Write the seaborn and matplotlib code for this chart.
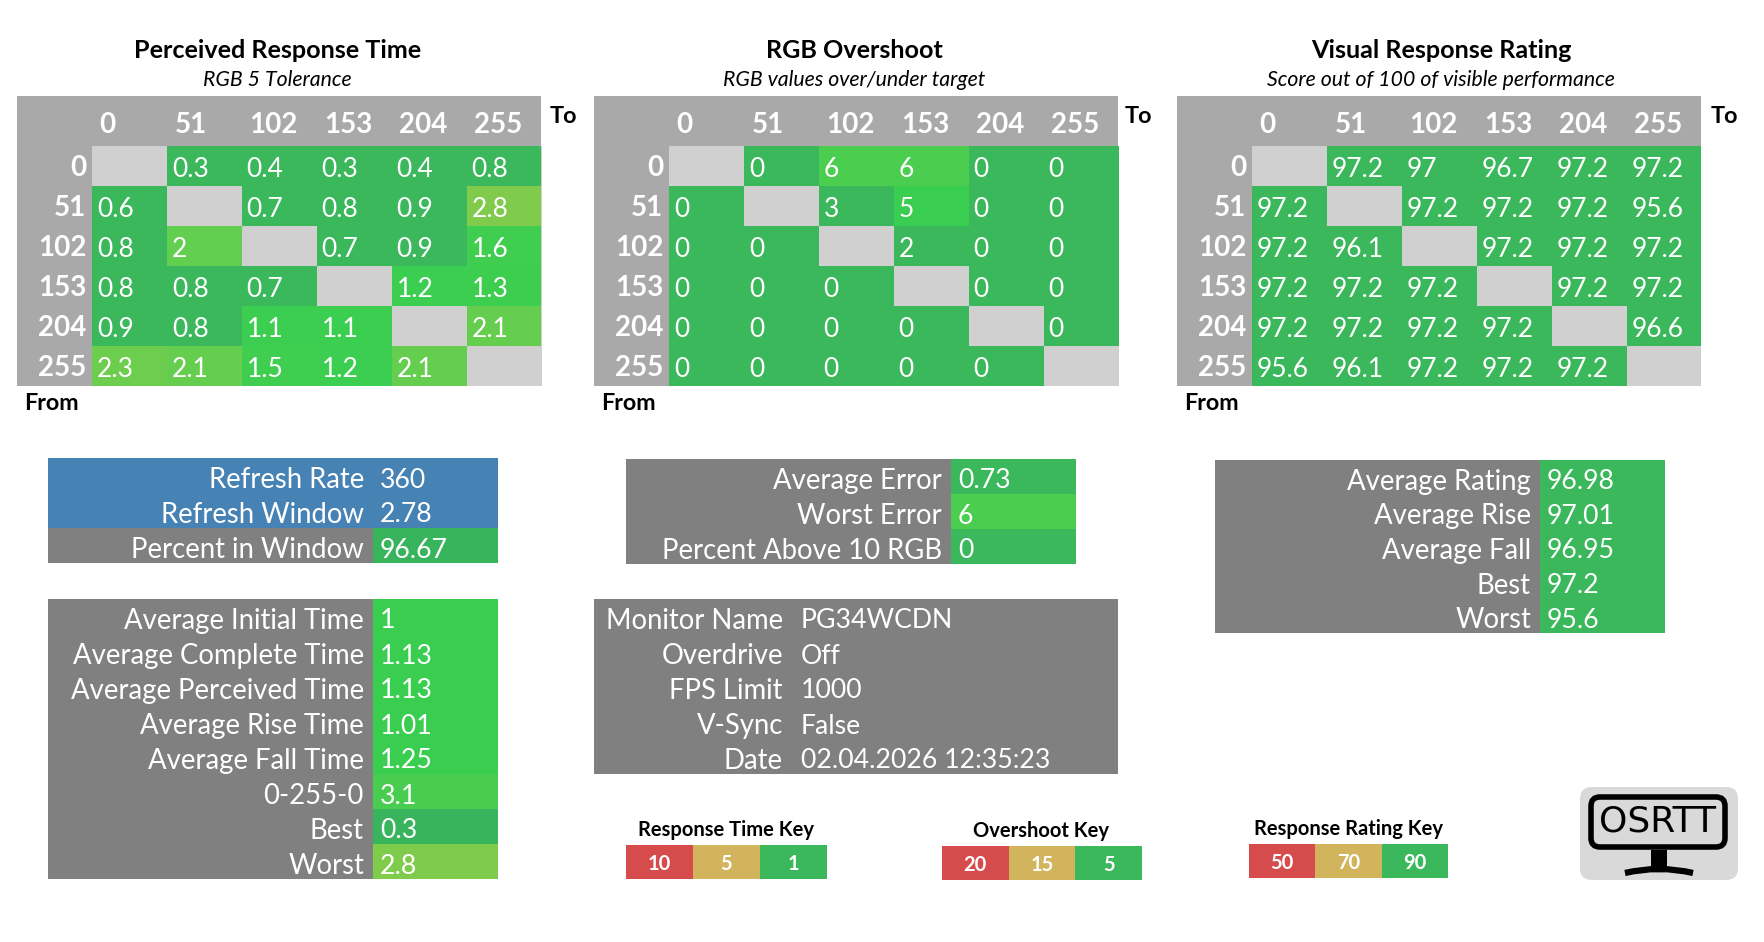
import matplotlib.pyplot as plt
import numpy as np
import seaborn as sns
from matplotlib.colors import LinearSegmentedColormap, ListedColormap
from matplotlib.patches import FancyBboxPatch, PathPatch, Rectangle
from matplotlib.path import Path
from matplotlib.transforms import ScaledTranslation

W, H = 1765, 942

levels = ["0", "51", "102", "153", "204", "255"]
nan = float("nan")

response_times = [
    [nan, 0.3, 0.4, 0.3, 0.4, 0.8],
    [0.6, nan, 0.7, 0.8, 0.9, 2.8],
    [0.8, 2, nan, 0.7, 0.9, 1.6],
    [0.8, 0.8, 0.7, nan, 1.2, 1.3],
    [0.9, 0.8, 1.1, 1.1, nan, 2.1],
    [2.3, 2.1, 1.5, 1.2, 2.1, nan],
]
overshoot = [
    [nan, 0, 6, 6, 0, 0],
    [0, nan, 3, 5, 0, 0],
    [0, 0, nan, 2, 0, 0],
    [0, 0, 0, nan, 0, 0],
    [0, 0, 0, 0, nan, 0],
    [0, 0, 0, 0, 0, nan],
]
ratings = [
    [nan, 97.2, 97, 96.7, 97.2, 97.2],
    [97.2, nan, 97.2, 97.2, 97.2, 95.6],
    [97.2, 96.1, nan, 97.2, 97.2, 97.2],
    [97.2, 97.2, 97.2, nan, 97.2, 97.2],
    [97.2, 97.2, 97.2, 97.2, nan, 96.6],
    [95.6, 96.1, 97.2, 97.2, 97.2, nan],
]

refresh_names = ["Refresh Rate", "Refresh Window", "Percent in Window"]
refresh_values = ["360", "2.78", "96.67"]
time_names = ["Average Initial Time", "Average Complete Time", "Average Perceived Time",
              "Average Rise Time", "Average Fall Time", "0-255-0", "Best", "Worst"]
time_values = ["1", "1.13", "1.13", "1.01", "1.25", "3.1", "0.3", "2.8"]
error_names = ["Average Error", "Worst Error", "Percent Above 10 RGB"]
error_values = ["0.73", "6", "0"]
monitor_names = ["Monitor Name", "Overdrive", "FPS Limit", "V-Sync", "Date"]
monitor_values = ["PG34WCDN", "Off", "1000", "False", "02.04.2026 12:35:23"]
rating_names = ["Average Rating", "Average Rise", "Average Fall", "Best", "Worst"]
rating_values = ["96.98", "97.01", "96.95", "97.2", "95.6"]

response_key = ["10", "5", "1"]
overshoot_key = ["20", "15", "5"]
rating_key = ["50", "70", "90"]

GREEN = "#3bb85c"
BRIGHT = "#3ace50"
GREY = "#808080"
HEADER = "#a9a9a9"
BLUE = "#4682b4"
KEY_COLOURS = ["#d64b4b", "#d2b45c", GREEN]


def scale(vmin, vmax, nodes):
    return LinearSegmentedColormap.from_list(
        "scale", [((v - vmin) / (vmax - vmin), c) for v, c in nodes]
    )


response_cmap = scale(0, 2.8, [(0, GREEN), (0.95, GREEN), (1.05, BRIGHT), (1.6, "#40ce50"),
                               (2, "#62cf50"), (2.8, "#80cb4b")])
overshoot_cmap = scale(0, 6, [(0, GREEN), (3.5, GREEN), (4.5, BRIGHT), (5, BRIGHT), (6, "#4bcd50")])
rating_cmap = scale(0, 100, [(0, GREEN), (100, GREEN)])

sns.set_theme(style="white")
plt.rcParams["font.family"] = ["Lato", "DejaVu Sans"]

fig = plt.figure(figsize=(W / 100, H / 100), dpi=100, facecolor="white")

bg = fig.add_axes([0, 0, 1, 1], zorder=-1)
bg.set_xlim(0, W)
bg.set_ylim(H, 0)
bg.axis("off")


def px_axes(x0, y0, x1, y1):
    return fig.add_axes([x0 / W, 1 - y1 / H, (x1 - x0) / W, (y1 - y0) / H])


def nudge_down(labels, px):
    shift = ScaledTranslation(0, -px / 100, fig.dpi_scale_trans)
    for label in labels:
        label.set_transform(label.get_transform() + shift)


def matrix_panel(left, data, cmap, vmin, vmax, title, subtitle, title_x, to_x, from_x):
    right = left + 524.5
    bg.add_patch(Rectangle((left, 96), 524.5, 290, color=HEADER, lw=0))
    ax = px_axes(left + 75, 146, right, 386)
    sns.heatmap(np.array(data, dtype=float), ax=ax, cmap=cmap, vmin=vmin, vmax=vmax, cbar=False,
                annot=True, fmt="g", annot_kws={"size": 19, "color": "white"}, linewidths=0)
    ax.set_facecolor("#d0d0d0")
    for t in ax.texts:
        t.set_ha("left")
        t.set_x(t.get_position()[0] - 0.5 + 0.065)
        t.set_y(t.get_position()[1] + 0.085)
    ax.xaxis.tick_top()
    ax.set_xticks(np.arange(6) + 0.10, levels, rotation=0, ha="left", color="white",
                  fontweight="bold", fontsize=20)
    ax.set_yticks(np.arange(6) + 0.5, levels, rotation=0, ha="right", color="white",
                  fontweight="bold", fontsize=20)
    ax.tick_params(axis="x", length=0, pad=6)
    ax.tick_params(axis="y", length=0, pad=4)
    nudge_down(ax.get_yticklabels(), 2)
    bg.text(title_x, 50.5, title, ha="center", va="center", fontweight="bold", fontsize=18.1, color="black")
    bg.text(title_x, 80.5, subtitle, ha="center", va="center", style="italic", fontsize=15.3, color="black")
    bg.text(to_x, 116.5, "To", ha="left", va="center", fontweight="bold", fontsize=16.8, color="black")
    bg.text(from_x, 403, "From", ha="left", va="center", fontweight="bold", fontsize=16.8, color="black")


def summary_table(x0, split, x1, y0, y1, names, values, colours, label_colours=None, val_pad=7):
    n = len(names)
    row = (y1 - y0) / n
    colours_left = label_colours or [GREY] * n
    for i, c in enumerate(colours_left):
        bg.add_patch(Rectangle((x0, y0 + i * row), split - x0, row, color=c, lw=0))
    ax = px_axes(split, y0, x1, y1)
    sns.heatmap(np.arange(n).reshape(-1, 1), ax=ax, cmap=ListedColormap(colours), vmin=-0.5, vmax=n - 0.5,
                cbar=False, annot=np.array(values).reshape(-1, 1), fmt="",
                annot_kws={"size": 19.2, "color": "white"}, xticklabels=False, yticklabels=names)
    for t in ax.texts:
        t.set_ha("left")
        t.set_x(val_pad / (x1 - split))
        t.set_y(t.get_position()[1] + 4.5 / row)
    ax.set_yticklabels(names, rotation=0, ha="right", color="white", fontsize=19.8)
    ax.tick_params(axis="y", length=0, pad=6.5)
    # the labels sit a little under the row centre in the original
    nudge_down(ax.get_yticklabels(), 4.5)


def key(x0, x1, y0, y1, title, labels, title_x, title_y):
    ax = px_axes(x0, y0, x1, y1)
    sns.heatmap(np.arange(3).reshape(1, -1), ax=ax, cmap=ListedColormap(KEY_COLOURS), vmin=-0.5, vmax=2.5,
                cbar=False, annot=np.array(labels).reshape(1, -1), fmt="",
                annot_kws={"size": 14.5, "color": "white", "fontweight": "bold"},
                xticklabels=False, yticklabels=False)
    for t in ax.texts:
        t.set_y(t.get_position()[1] + 0.05)
    bg.text(title_x, title_y, title, ha="center", va="center", fontweight="bold", fontsize=14.5, color="black")


matrix_panel(17, response_times, response_cmap, 0, 2.8, "Perceived Response Time", "RGB 5 Tolerance", 277.5, 550, 24)
matrix_panel(594, overshoot, overshoot_cmap, 0, 6, "RGB Overshoot", "RGB values over/under target", 854, 1125, 601)
matrix_panel(1177, ratings, rating_cmap, 0, 100, "Visual Response Rating", "Score out of 100 of visible performance", 1441, 1711, 1184)

summary_table(48, 373, 498, 458, 563, refresh_names, refresh_values, [BLUE, BLUE, "#38b55c"],
              label_colours=[BLUE, BLUE, GREY])
summary_table(48, 373, 498, 599, 879, time_names, time_values,
              [BRIGHT, BRIGHT, BRIGHT, BRIGHT, BRIGHT, "#48cd50", "#38b55c", "#7fcb4b"])
summary_table(626, 951, 1076, 459, 564, error_names, error_values, [GREEN, "#4bcd50", GREEN])
summary_table(594, 792, 1118.5, 599, 774, monitor_names, monitor_values, [GREY] * 5, val_pad=9)
summary_table(1215, 1540, 1665, 460, 633, rating_names, rating_values, [GREEN] * 5)

key(626, 827, 845, 879, "Response Time Key", response_key, 726, 830)
key(942, 1142, 846, 880, "Overshoot Key", overshoot_key, 1041.5, 831)
key(1249, 1448, 844, 878, "Response Rating Key", rating_key, 1349, 829)

# logo, bottom right
bg.add_patch(FancyBboxPatch((1588, 795), 142, 77, boxstyle="round,pad=8,rounding_size=12", fc="#d9d9d9", ec="none"))
bg.add_patch(FancyBboxPatch((1594, 800), 128, 44, boxstyle="round,pad=3,rounding_size=9", fc="none", ec="black", lw=4))
bg.add_patch(Rectangle((1651, 850), 16, 22, color="black", lw=0))
foot = Path([(1625, 873), (1659, 865), (1693, 873)], [Path.MOVETO, Path.CURVE3, Path.CURVE3])
bg.add_patch(PathPatch(foot, fc="none", ec="black", lw=4.5))
bg.text(1658, 821, "OSRTT", ha="center", va="center", fontsize=26, fontfamily="DejaVu Sans", color="black")

fig.savefig("out.png", dpi=100)
